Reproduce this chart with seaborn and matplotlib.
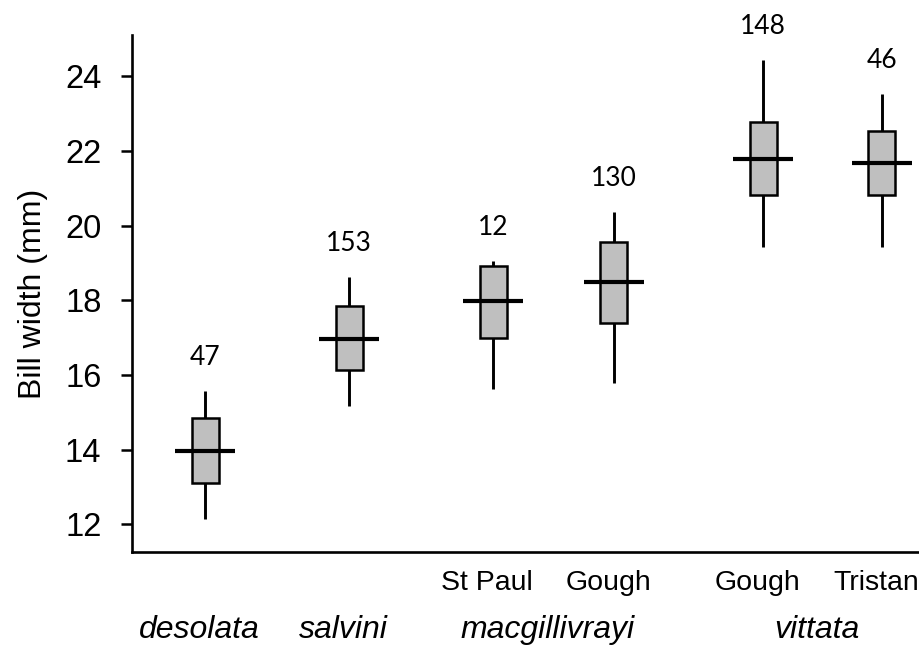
import numpy as np
import pandas as pd
import seaborn as sns
import matplotlib.pyplot as plt

# five-number summaries (mm)
groups = ["desolata", "salvini", "macgillivrayi", "macgillivrayi", "vittata", "vittata"]
sites = ["", "", "St Paul", "Gough", "Gough", "Tristan"]
n_birds = [47, 153, 12, 130, 148, 46]
w_min = [12.15, 15.18, 15.63, 15.79, 19.42, 19.42]
q1 = [13.11, 16.12, 17.00, 17.40, 20.81, 20.81]
med = [13.97, 16.96, 17.99, 18.48, 21.77, 21.67]
q3 = [14.84, 17.85, 18.91, 19.55, 22.76, 22.54]
w_max = [15.57, 18.61, 19.06, 20.35, 24.42, 23.53]
xpos = [1, 2, 3, 3.84, 4.875, 5.70]

# with 5 points, linear quartiles land exactly on q1/median/q3
rows = []
for i in range(len(xpos)):
    for v in [w_min[i], q1[i], med[i], q3[i], w_max[i]]:
        rows.append({"pos": xpos[i], "bill": v})
df = pd.DataFrame(rows)

sns.set_style("ticks")
plt.rcParams['font.family'] = ['Liberation Sans', 'DejaVu Sans']
for k in ["text.color", "axes.labelcolor", "xtick.color", "ytick.color", "axes.edgecolor"]:
    plt.rcParams[k] = "black"

fig = plt.figure(figsize=(9.2, 6.46), dpi=100)
ax = fig.add_axes([0.1435, 0.1455, 0.8565, 0.8003])

box_w = 0.1875
native = np.diff(sorted(xpos)).min()
sns.boxplot(data=df, x="pos", y="bill", native_scale=True, whis=np.inf,
            showcaps=False, width=box_w / native, color="#BFBFBF",
            saturation=1, linecolor="black", linewidth=1.8,
            whiskerprops=dict(linewidth=2.1),
            medianprops=dict(linewidth=0), ax=ax)

# median bars wider than the boxes
ax.hlines(med, np.array(xpos) - 0.21, np.array(xpos) + 0.21,
          color="black", linewidth=3)

for x, top, n in zip(xpos, w_max, n_birds):
    ax.text(x, top + 0.9, str(n), ha="center", va="center",
            family="Lato", fontsize=19)

ax.set_xlim(0.493, 5.965)
ax.set_ylim(11.26, 25.1)
ax.set_yticks([12, 14, 16, 18, 20, 22, 24])
ax.set_xticks([])
ax.set_xlabel("")
ax.set_ylabel("Bill width (mm)", fontsize=23, labelpad=12)
ax.tick_params(axis="y", labelsize=23.5, length=8, width=1.8, pad=14)
sns.despine(ax=ax)
for s in ["left", "bottom"]:
    ax.spines[s].set_linewidth(1.9)

# site labels and species labels under the axis
trans = ax.get_xaxis_transform()
for x, s in zip(xpos, sites):
    if s:
        ax.text(x - 0.04, -0.06, s, transform=trans, ha="center", va="center",
                fontsize=20.5)
for g in dict.fromkeys(groups):
    xs = [x for x, gg in zip(xpos, groups) if gg == g]
    ax.text(np.mean(xs) - 0.04, -0.151, g, transform=trans, ha="center",
            va="center", fontsize=23, style="italic")

fig.savefig("out.png", dpi=100)
